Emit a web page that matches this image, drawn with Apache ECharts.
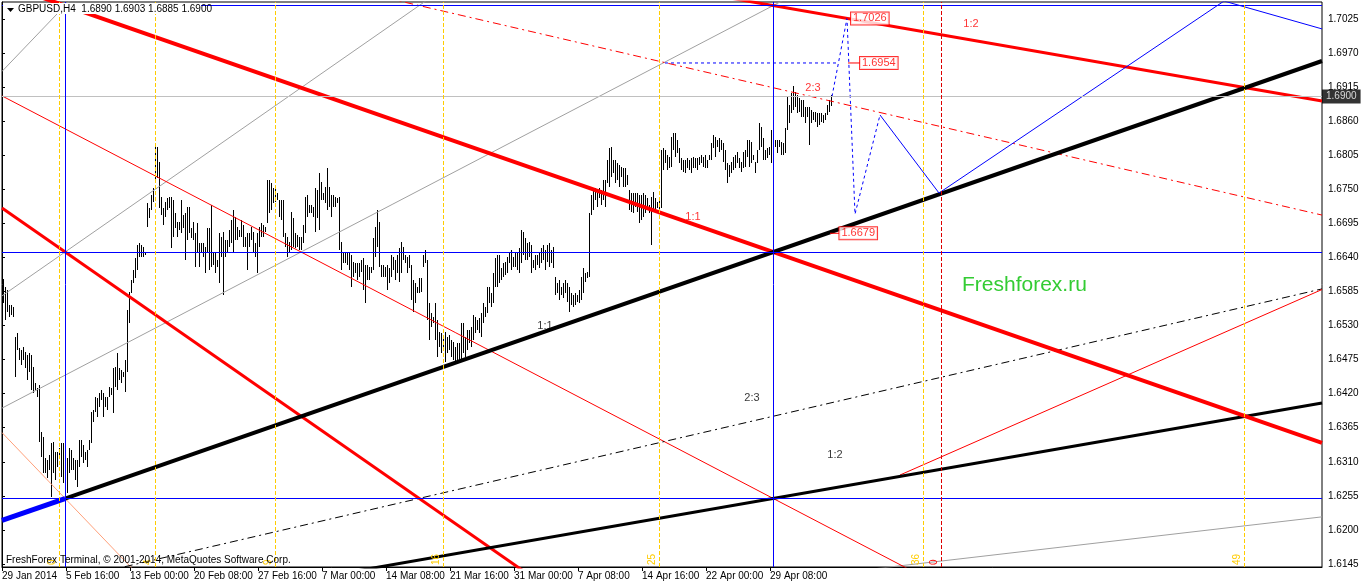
<!DOCTYPE html>
<html><head><meta charset="utf-8">
<script src="https://cdn.jsdelivr.net/npm/echarts@6/dist/echarts.min.js"></script>
<style>html,body{margin:0;padding:0;background:#fff;}#c{width:1362px;height:586px;}</style>
</head><body><div id="c"></div>
<script>
// ---------- data ----------
const firstBar = 1; // bar index of first visible H4 bar (29 Jan 2014 04:00)
const highs = [
1.6605,1.6592,1.6587,1.6563,1.6563,1.6560,1.6512,1.6518,1.6494,1.6491,
1.6495,1.6487,1.6482,1.6486,1.6482,1.6463,1.6437,1.6429,1.6434,1.6358,
1.6350,1.6316,1.6313,1.6321,1.6340,1.6342,1.6326,1.6326,1.6332,1.6340,
1.6340,1.6324,1.6316,1.6332,1.6329,1.6316,1.6313,1.6313,1.6345,1.6345,
1.6337,1.6326,1.6329,1.6345,1.6390,1.6394,1.6415,1.6413,1.6421,1.6426,
1.6421,1.6415,1.6415,1.6431,1.6429,1.6461,1.6463,1.6486,1.6461,1.6458,
1.6455,1.6474,1.6555,1.6584,1.6604,1.6620,1.6639,1.6660,1.6663,1.6660,
1.6657,1.6649,1.6728,1.6720,1.6741,1.6752,1.6821,1.6818,1.6794,1.6738,
1.6720,1.6730,1.6736,1.6738,1.6738,1.6733,1.6712,1.6697,1.6697,1.6733,
1.6708,1.6712,1.6721,1.6721,1.6688,1.6697,1.6679,1.6696,1.6663,1.6663,
1.6663,1.6657,1.6688,1.6688,1.6725,1.6649,1.6649,1.6636,1.6679,1.6673,
1.6681,1.6668,1.6668,1.6684,1.6700,1.6717,1.6705,1.6689,1.6684,1.6700,
1.6692,1.6673,1.6679,1.6679,1.6689,1.6681,1.6663,1.6679,1.6689,1.6696,
1.6692,1.6689,1.6765,1.6765,1.6760,1.6752,1.6752,1.6744,1.6733,1.6733,
1.6733,1.6679,1.6673,1.6665,1.6713,1.6704,1.6679,1.6676,1.6673,1.6673,
1.6692,1.6738,1.6741,1.6725,1.6725,1.6721,1.6752,1.6749,1.6776,1.6762,
1.6744,1.6754,1.6784,1.6754,1.6741,1.6741,1.6738,1.6736,1.6738,1.6665,
1.6647,1.6647,1.6647,1.6649,1.6644,1.6633,1.6631,1.6631,1.6631,1.6636,
1.6639,1.6628,1.6628,1.6625,1.6625,1.6671,1.6689,1.6717,1.6697,1.6628,
1.6628,1.6625,1.6628,1.6623,1.6644,1.6641,1.6636,1.6644,1.6655,1.6665,
1.6657,1.6644,1.6641,1.6644,1.6628,1.6604,1.6599,1.6592,1.6607,1.6607,
1.6644,1.6652,1.6636,1.6567,1.6550,1.6544,1.6567,1.6539,1.6520,1.6518,
1.6515,1.6520,1.6512,1.6515,1.6507,1.6503,1.6495,1.6502,1.6502,1.6534,
1.6534,1.6512,1.6523,1.6523,1.6528,1.6547,1.6544,1.6539,1.6542,1.6550,
1.6567,1.6560,1.6592,1.6592,1.6583,1.6615,1.6639,1.6644,1.6644,1.6623,
1.6631,1.6633,1.6641,1.6649,1.6652,1.6641,1.6649,1.6647,1.6655,1.6684,
1.6681,1.6671,1.6663,1.6665,1.6660,1.6636,1.6644,1.6644,1.6647,1.6655,
1.6660,1.6652,1.6660,1.6663,1.6652,1.6657,1.6608,1.6599,1.6604,1.6592,
1.6599,1.6604,1.6599,1.6592,1.6583,1.6579,1.6583,1.6579,1.6587,1.6608,
1.6623,1.6615,1.6617,1.6712,1.6741,1.6749,1.6752,1.6749,1.6752,1.6749,
1.6765,1.6765,1.6797,1.6817,1.6818,1.6797,1.6797,1.6792,1.6789,1.6786,
1.6784,1.6784,1.6773,1.6749,1.6744,1.6744,1.6744,1.6744,1.6741,1.6741,
1.6744,1.6741,1.6736,1.6725,1.6738,1.6746,1.6736,1.6730,1.6738,1.6814,
1.6817,1.6814,1.6805,1.6802,1.6834,1.6841,1.6841,1.6830,1.6817,1.6801,
1.6797,1.6797,1.6801,1.6797,1.6801,1.6802,1.6801,1.6801,1.6802,1.6805,
1.6802,1.6805,1.6797,1.6805,1.6825,1.6838,1.6834,1.6830,1.6833,1.6830,
1.6825,1.6814,1.6792,1.6789,1.6794,1.6802,1.6805,1.6810,1.6801,1.6794,
1.6810,1.6814,1.6830,1.6830,1.6826,1.6805,1.6794,1.6814,1.6857,1.6851,
1.6833,1.6814,1.6817,1.6818,1.6846,1.6830,1.6830,1.6830,1.6830,1.6826,
1.6825,1.6849,1.6899,1.6886,1.6906,1.6917,1.6907,1.6902,1.6897,1.6894,
1.6894,1.6883,1.6883,1.6883,1.6878,1.6875,1.6875,1.6873,1.6873,1.6873,
1.6870,1.6873,1.6886,1.6894,1.6903];
const lows = [
1.6567,1.6539,1.6552,1.6544,1.6547,1.6544,1.6447,1.6491,1.6474,1.6466,
1.6474,1.6461,1.6442,1.6455,1.6426,1.6421,1.6426,1.6415,1.6342,1.6318,
1.6292,1.6292,1.6284,1.6297,1.6253,1.6292,1.6281,1.6302,1.6316,1.6286,
1.6276,1.6260,1.6260,1.6292,1.6297,1.6297,1.6281,1.6269,1.6302,1.6318,
1.6308,1.6313,1.6302,1.6329,1.6340,1.6374,1.6390,1.6382,1.6398,1.6410,
1.6382,1.6398,1.6394,1.6415,1.6418,1.6389,1.6431,1.6426,1.6442,1.6437,
1.6447,1.6423,1.6455,1.6534,1.6583,1.6599,1.6607,1.6620,1.6641,1.6641,
1.6641,1.6644,1.6689,1.6704,1.6717,1.6730,1.6760,1.6768,1.6720,1.6708,
1.6692,1.6705,1.6717,1.6720,1.6655,1.6673,1.6688,1.6673,1.6684,1.6679,
1.6688,1.6636,1.6668,1.6679,1.6671,1.6668,1.6625,1.6647,1.6625,1.6647,
1.6641,1.6615,1.6647,1.6620,1.6625,1.6628,1.6615,1.6625,1.6599,1.6641,
1.6579,1.6641,1.6647,1.6657,1.6663,1.6647,1.6668,1.6668,1.6673,1.6673,
1.6657,1.6657,1.6620,1.6657,1.6668,1.6647,1.6641,1.6615,1.6657,1.6673,
1.6673,1.6681,1.6696,1.6712,1.6717,1.6728,1.6730,1.6733,1.6705,1.6700,
1.6673,1.6657,1.6641,1.6649,1.6652,1.6657,1.6655,1.6657,1.6652,1.6652,
1.6663,1.6679,1.6705,1.6712,1.6712,1.6705,1.6681,1.6704,1.6684,1.6733,
1.6733,1.6728,1.6717,1.6721,1.6705,1.6721,1.6721,1.6728,1.6652,1.6620,
1.6631,1.6631,1.6628,1.6620,1.6592,1.6608,1.6615,1.6604,1.6608,1.6616,
1.6587,1.6567,1.6604,1.6604,1.6615,1.6620,1.6641,1.6657,1.6625,1.6608,
1.6608,1.6608,1.6587,1.6599,1.6608,1.6620,1.6604,1.6615,1.6600,1.6615,
1.6636,1.6631,1.6615,1.6623,1.6571,1.6552,1.6567,1.6583,1.6583,1.6584,
1.6625,1.6631,1.6539,1.6507,1.6528,1.6534,1.6507,1.6479,1.6495,1.6486,
1.6491,1.6471,1.6486,1.6491,1.6479,1.6474,1.6470,1.6470,1.6474,1.6474,
1.6486,1.6479,1.6491,1.6502,1.6495,1.6507,1.6518,1.6523,1.6518,1.6512,
1.6534,1.6544,1.6550,1.6567,1.6560,1.6567,1.6592,1.6592,1.6599,1.6604,
1.6608,1.6612,1.6615,1.6631,1.6620,1.6625,1.6625,1.6620,1.6615,1.6631,
1.6644,1.6636,1.6636,1.6641,1.6615,1.6623,1.6620,1.6628,1.6623,1.6631,
1.6636,1.6620,1.6633,1.6625,1.6631,1.6623,1.6579,1.6583,1.6571,1.6579,
1.6575,1.6583,1.6568,1.6552,1.6563,1.6560,1.6563,1.6568,1.6567,1.6571,
1.6583,1.6600,1.6607,1.6608,1.6708,1.6717,1.6733,1.6721,1.6736,1.6725,
1.6733,1.6721,1.6760,1.6754,1.6770,1.6776,1.6760,1.6765,1.6754,1.6770,
1.6754,1.6754,1.6757,1.6717,1.6713,1.6712,1.6721,1.6713,1.6696,1.6700,
1.6705,1.6712,1.6721,1.6712,1.6660,1.6713,1.6717,1.6720,1.6717,1.6720,
1.6781,1.6792,1.6781,1.6784,1.6786,1.6814,1.6802,1.6809,1.6792,1.6781,
1.6778,1.6776,1.6784,1.6781,1.6776,1.6784,1.6784,1.6781,1.6789,1.6792,
1.6786,1.6784,1.6784,1.6797,1.6797,1.6817,1.6802,1.6818,1.6810,1.6814,
1.6794,1.6781,1.6760,1.6770,1.6776,1.6781,1.6784,1.6792,1.6784,1.6778,
1.6784,1.6786,1.6802,1.6786,1.6792,1.6797,1.6776,1.6792,1.6814,1.6818,
1.6797,1.6797,1.6801,1.6805,1.6792,1.6794,1.6818,1.6809,1.6818,1.6805,
1.6805,1.6809,1.6846,1.6857,1.6873,1.6878,1.6883,1.6873,1.6875,1.6867,
1.6867,1.6857,1.6867,1.6822,1.6857,1.6862,1.6859,1.6851,1.6854,1.6859,
1.6857,1.6862,1.6870,1.6875,1.6885];

const xTickBars = [0,32,64,96,128,160,192,224,256,288,320,352,384];
const xTickLabels = ['29 Jan 2014','5 Feb 16:00','13 Feb 00:00','20 Feb 08:00','27 Feb 16:00','7 Mar 00:00','14 Mar 08:00','21 Mar 16:00','31 Mar 00:00','7 Apr 08:00','14 Apr 16:00','22 Apr 00:00','29 Apr 08:00'];
const yTicks = [1.6145,1.6200,1.6255,1.6310,1.6365,1.6420,1.6475,1.6530,1.6585,1.6640,1.6695,1.6750,1.6805,1.6860,1.6915,1.6970,1.7025];

// Gann fan lines (bar index, price)
const redFan1x1 = [[0,1.70820],[660,1.63404]];
const redFan2x3 = [[0,1.72030],[660,1.67084]];
const redFan1x2 = [[0,1.72634],[660,1.68925]];
const redFan3x2 = [[0,1.69008],[660,1.57883]];
const redFan2x1 = [[0,1.67197],[660,1.52363]];
const redFan3x1 = [[0,1.63572],[660,1.41320]];
const blkFan1x1 = [[31.5,1.62507],[660,1.69572]];
const blueFanPart = [[0,1.62156],[31.5,1.62507]];
const blkFan2x3 = [[0,1.60946],[660,1.65892]];
const blkFan1x2 = [[0,1.60342],[660,1.64051]];
const grayFan3x2 = [[0,1.63967],[660,1.75093]];
const grayFan2x1 = [[0,1.65779],[660,1.80613]];
const grayFan3x1 = [[0,1.69404],[660,1.91657]];
const grayFan1x3 = [[0,1.59739],[660,1.62211]];
const redTrend = [[449,1.62887],[660,1.65882]];

const forecastDashed = [[415,1.6900],[422.5,1.7026],[426.5,1.6710],[439,1.6870]];
const forecastSolid = [[439,1.6870],[468.5,1.6744],[611,1.7054],[660,1.7009]];
const levelDashed = [[331.5,1.6954],[418,1.6954]];

const boxLevels = [1.70468,1.66480,1.62508];
const boxTimes = [31.75,385.75];
const fibTimes = [28.75,76.75,136.75,220.75,328.75,460.75,621.25];
const fibLabels = ['0','4','9','16','25','36','49'];
const redTime = [469.75];
const redTimeLabel = ['0'];
const bidPrice = 1.6900;

const priceLabels = [[424.5,1.7026],[429,1.6954],[418.7,1.6679]];
const priceLabelLinks = [[[422.5,1.7026],[424.5,1.7026]],[[423,1.6954],[429,1.6954]],[[414,1.6679],[418.7,1.6679]]];
const redFanTexts = [[345.5,1.6705,'1:1'],[405.5,1.6914,'2:3'],[484.5,1.7017,'1:2']];
const blkFanTexts = [[271.5,1.6529,'1:1'],[375,1.6413,'2:3'],[416.5,1.6321,'1:2']];

// ---------- chart ----------
const FONT = 'Liberation Sans';
const chart = echarts.init(document.getElementById('c'), null, {renderer:'canvas'});
const barData = highs.map((h,k)=>[firstBar+k, h, lows[k]]);

function seg(data, color, width, type, z){
  return {type:'line', data:data, symbol:'none', showSymbol:false, silent:true, animation:false, clip:true,
    lineStyle:{color:color, width:width, type:type||'solid'}, z:z||3};
}
function textPts(list, color){
  return {type:'scatter', data:list.map(d=>[d[0],d[1],d[2]]), symbolSize:0, silent:true, animation:false, z:6,
    label:{show:true, position:'inside', formatter:p=>p.data[2], color:color, fontSize:11, fontFamily:FONT}};
}
function marks(items, color, type, z, label){
  return {type:'line', data:[], silent:true, animation:false, z:z,
   markLine:{silent:true, symbol:['none','none'], animation:false, precision:6,
     label: label || {show:false},
     lineStyle:{color:color, width:1, type:type}, data:items}};
}

const series = [
  {type:'custom', data:barData, z:1, silent:true, animation:false,
   encode:{x:0, y:[1,2]},
   renderItem:function(params, api){
     const x = api.value(0);
     const top = api.coord([x, api.value(1)]);
     const bot = api.coord([x, api.value(2)]);
     const y0 = Math.round(top[1]);
     return {type:'rect', shape:{x:Math.round(top[0])-1, y:y0, width:1, height:Math.max(1, Math.round(bot[1])-y0)}, style:{fill:'#000'}};
   }},
  marks([{yAxis:bidPrice}], '#c0c0c0', 'solid', 2),
  marks(boxLevels.map(v=>({yAxis:v})).concat(boxTimes.map(v=>({xAxis:v}))), '#0000ff', 'solid', 4),
  marks(fibTimes.map((v,k)=>({xAxis:v, label:{formatter:fibLabels[k]}})), '#ffcc00', [4,2], 2,
    {show:true, position:'insideStartTop', color:'#ffcc00', fontSize:10, fontFamily:FONT, distance:2}),
  marks(redTime.map((v,k)=>({xAxis:v, label:{formatter:redTimeLabel[k]}})), '#dd0000', [4,2], 2,
    {show:true, position:'insideStartTop', color:'#ff0000', fontSize:10, fontFamily:FONT, distance:2}),
  // gann fans
  seg(grayFan3x2,'#a0a0a0',1), seg(grayFan2x1,'#a0a0a0',1), seg(grayFan3x1,'#a0a0a0',1), seg(grayFan1x3,'#a0a0a0',1),
  seg(redFan3x1,'#ffa07a',1), seg(redFan3x2,'#ff0000',1), seg(redFan2x3,'#ff0000',1,[8,4,2,4]),
  seg(blkFan2x3,'#000000',1,[8,4,2,4]), seg(redTrend,'#ff0000',1),
  seg(redFan2x1,'#ff0000',3), seg(redFan1x2,'#ff0000',3), seg(blkFan1x2,'#000000',3),
  seg(redFan1x1,'#ff0000',4), seg(blkFan1x1,'#000000',4), seg(blueFanPart,'#0000ff',5),
  // forecast
  seg(levelDashed,'#0000ff',1,[3,3]), seg(forecastDashed,'#0000ff',1,[3,3]), seg(forecastSolid,'#0000ff',1),
  seg(priceLabelLinks[0],'#ff0000',1,'solid',5), seg(priceLabelLinks[1],'#ff0000',1,'solid',5), seg(priceLabelLinks[2],'#ff0000',1,'solid',5),
  {type:'scatter', data:priceLabels, symbolSize:0, silent:true, animation:false, z:7,
   label:{show:true, position:'right', distance:0, formatter:p=>p.data[1].toFixed(4), color:'#ff0000', fontSize:11, fontFamily:FONT,
     backgroundColor:'#fff', borderColor:'#ff0000', borderWidth:1, padding:[1,2,0,2]}},
  textPts(redFanTexts,'#ff0000'), textPts(blkFanTexts,'#000000'),
  {type:'scatter', data:[[660,bidPrice]], symbolSize:0, silent:true, animation:false, clip:false, z:8,
   label:{show:true, position:'right', distance:0, formatter:p=>p.data[1].toFixed(4), color:'#fff', fontSize:10, fontFamily:FONT,
     backgroundColor:'#000', padding:[2,4,2,4]}}
];

chart.setOption({
  backgroundColor:'#fff',
  animation:false,
  grid:{left:2, top:2, width:1320, height:565, show:true, borderColor:'#000', borderWidth:1, backgroundColor:'#fff', outerBoundsMode:'none'},
  xAxis:{type:'value', min:0, max:660, splitLine:{show:false},
    axisLine:{show:true, lineStyle:{color:'#000', width:1}},
    axisTick:{show:true, length:4, lineStyle:{color:'#000'}, customValues:xTickBars},
    axisLabel:{show:true, customValues:xTickBars, formatter:v=>{const k=xTickBars.indexOf(v); return k>=0?xTickLabels[k]:'';},
      align:'left', color:'#000', fontSize:10, fontFamily:FONT, margin:4}},
  yAxis:{type:'value', position:'right', min:1.6140156, max:1.7052449, splitLine:{show:false}, scale:true,
    axisLine:{show:true, lineStyle:{color:'#000', width:1}},
    axisTick:{show:true, length:3, lineStyle:{color:'#000'}, customValues:yTicks},
    axisLabel:{show:true, customValues:yTicks, formatter:v=>v.toFixed(4), color:'#000', fontSize:10, fontFamily:FONT, margin:6}},
  graphic:[
    {type:'rect', left:3, top:3, shape:{width:198, height:11}, style:{fill:'#fff'}, z:100},
    {type:'polygon', shape:{points:[[7,8],[14,8],[10.5,12]]}, style:{fill:'#000'}, z:101},
    {type:'text', left:18, top:4, style:{text:'GBPUSD,H4  1.6890 1.6903 1.6885 1.6900', font:'10px "Liberation Sans"', fill:'#000'}, z:101},
    {type:'text', left:962, top:275, style:{text:'Freshforex.ru', font:'21px "Liberation Sans"', fill:'#33cc33'}, z:101},
    {type:'text', left:6, top:555, style:{text:'FreshForex Terminal, © 2001-2014, MetaQuotes Software Corp.', font:'10px "Liberation Sans"', fill:'#000'}, z:101}
  ],
  series:series
});
</script></body></html>
